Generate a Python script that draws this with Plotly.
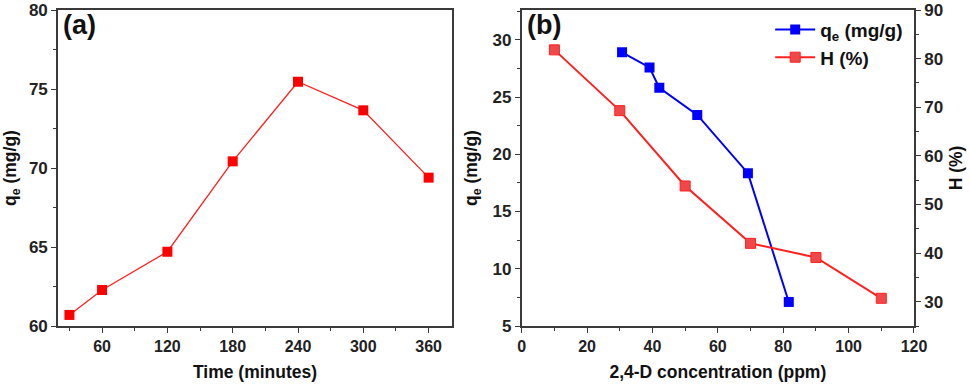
import plotly.graph_objects as go

# Panel (a)
time_min = [30, 60, 120, 180, 240, 300, 360]
qe_time = [60.7, 62.28, 64.7, 70.42, 75.46, 73.65, 69.39]

# Panel (b)
conc_qe = [30.7, 39.1, 42.1, 53.7, 69.2, 81.7]
qe_conc = [28.9, 27.58, 25.8, 23.44, 18.35, 7.1]
conc_h = [10, 30, 50, 70, 90, 110]
h_pct = [81.8, 69.3, 53.8, 42.0, 39.1, 30.7]

FONT = "Liberation Sans"
AX = "#3a3a3a"

fig = go.Figure()
fig.add_trace(go.Scatter(x=time_min, y=qe_time, mode="lines+markers",
                         line=dict(color="#ff2020", width=1.3),
                         marker=dict(symbol="square", size=10, color="#ff0000"),
                         showlegend=False, xaxis="x", yaxis="y"))
fig.add_trace(go.Scatter(x=conc_qe, y=qe_conc, mode="lines+markers",
                         name="q<sub>e</sub> (mg/g)",
                         line=dict(color="#0000ff", width=2),
                         marker=dict(symbol="square", size=10, color="#0000ff"),
                         xaxis="x2", yaxis="y2"))
fig.add_trace(go.Scatter(x=conc_h, y=h_pct, mode="lines+markers",
                         name="H (%)",
                         line=dict(color="#ff2020", width=2),
                         marker=dict(symbol="square", size=10, color="#f04848",
                                     line=dict(color="#ff2020", width=1)),
                         xaxis="x2", yaxis="y3"))

xtickfont = dict(family=FONT, size=16, color="#222", weight="bold")
ytickfont = dict(family=FONT, size=17, color="#222", weight="bold")
titlefont = dict(family=FONT, size=17.5, color="#111", weight="bold")

common = dict(showgrid=False, zeroline=False, showline=True, linecolor=AX,
              linewidth=1.6, ticks="outside", ticklen=5, tickwidth=1.4,
              tickcolor=AX, automargin=False, ticklabeloverflow="allow")

fig.update_layout(
    width=970, height=388,
    margin=dict(l=58, r=56, t=10, b=62),
    paper_bgcolor="white", plot_bgcolor="white",
    xaxis=dict(domain=[0, 0.4603], range=[19.5, 381.5], tickvals=[60, 120, 180, 240, 300, 360],
               minor=dict(tickvals=[30, 90, 150, 210, 270, 330], ticks="outside", ticklen=3, tickcolor=AX),
               mirror=True, tickfont=xtickfont,
               title=dict(text="Time (minutes)", font=titlefont, standoff=12),
               anchor="y", **common),
    yaxis=dict(domain=[0, 1], range=[60, 80], tickvals=[60, 65, 70, 75, 80],
               minor=dict(tickvals=[62.5, 67.5, 72.5, 77.5], ticks="outside", ticklen=3, tickcolor=AX),
               mirror=True, tickfont=ytickfont,
               title=dict(text="q<sub>e</sub> (mg/g)", font=titlefont, standoff=10),
               anchor="x", **common),
    xaxis2=dict(domain=[0.5417, 1], range=[0, 120], tickvals=[0, 20, 40, 60, 80, 100, 120],
                minor=dict(tickvals=[10, 30, 50, 70, 90, 110], ticks="outside", ticklen=3, tickcolor=AX),
                mirror=True, tickfont=xtickfont,
                title=dict(text="2,4-D concentration (ppm)", font=titlefont, standoff=12),
                anchor="y2", **common),
    yaxis2=dict(domain=[0, 1], range=[5, 32.6], tickvals=[5, 10, 15, 20, 25, 30],
                minor=dict(tickvals=[7.5, 12.5, 17.5, 22.5, 27.5, 32.5], ticks="outside", ticklen=3, tickcolor=AX),
                tickfont=ytickfont,
                title=dict(text="q<sub>e</sub> (mg/g)", font=titlefont, standoff=10),
                anchor="x2", **common),
    yaxis3=dict(range=[25, 90], tickvals=[30, 40, 50, 60, 70, 80, 90],
                minor=dict(tickvals=[25, 35, 45, 55, 65, 75, 85], ticks="outside", ticklen=3, tickcolor=AX),
                overlaying="y2", side="right", anchor="x2", tickfont=ytickfont,
                title=dict(text="H (%)", font=titlefont, standoff=8),
                **common),
    legend=dict(x=0.832, y=0.998, xanchor="left", yanchor="top", itemwidth=40,
                bgcolor="rgba(0,0,0,0)", font=dict(family=FONT, size=19, color="#111", weight="bold")),
    annotations=[
        dict(text="(a)", x=0.004, y=1.006, xref="paper", yref="paper", xanchor="left", yanchor="top",
             showarrow=False, font=dict(family=FONT, size=27, color="#111", weight="bold")),
        dict(text="(b)", x=0.545, y=1.006, xref="paper", yref="paper", xanchor="left", yanchor="top",
             showarrow=False, font=dict(family=FONT, size=27, color="#111", weight="bold")),
    ],
)

fig.write_html("out.html", config={"displayModeBar": False},
               post_script="document.body.style.margin='0';document.body.style.padding='0';")
